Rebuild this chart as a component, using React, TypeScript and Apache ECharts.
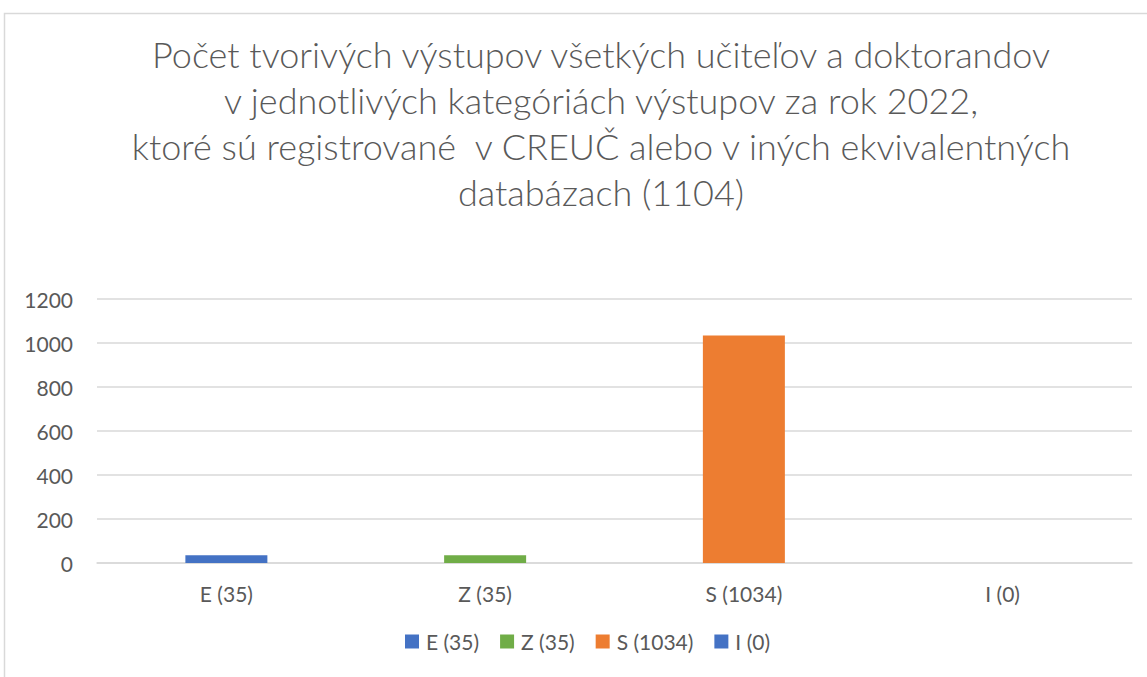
import React, { useEffect, useRef } from "react";
import * as echarts from "echarts";

const categories = ["E (35)", "Z (35)", "S (1034)", "I (0)"];
const seriesNames = ["E (35)", "Z (35)", "S (1034)", "I (0)"];
const seriesValues = [35, 35, 1034, 0];
const seriesColors = ["#4472C4", "#70AD47", "#ED7D31", "#4472C4"];
const yTicks = { min: 0, max: 1200, interval: 200 };
const titleLines = [
  "Počet tvorivých výstupov všetkých učiteľov a doktorandov",
  "v jednotlivých kategóriách výstupov za rok 2022,",
  "ktoré sú registrované  v CREUČ alebo v iných ekvivalentných",
  "databázach (1104)",
];

export default function App() {
  const ref = useRef<HTMLDivElement>(null);
  useEffect(() => {
    if (!ref.current) return;
    const chart = echarts.init(ref.current, undefined, { renderer: "svg" });
    const font = "Lato, 'Open Sans', sans-serif";
    const series = seriesNames.map((name, i) => ({
      name,
      type: "bar",
      stack: "all",
      barWidth: 82,
      itemStyle: { color: seriesColors[i] },
      data: categories.map((_, j) => (j === i ? seriesValues[i] : "-")),
    }));
    chart.setOption({
      animation: false,
      backgroundColor: "#ffffff",
      textStyle: { fontFamily: font },
      grid: { left: 97, right: 15, top: 299, bottom: 114, containLabel: false },
      xAxis: {
        type: "category",
        data: categories,
        axisLine: { show: true, lineStyle: { color: "#d9d9d9", width: 1.5 } },
        axisTick: { show: false },
        axisLabel: { color: "#595959", fontSize: 21, margin: 20, fontFamily: font },
      },
      yAxis: {
        type: "value",
        min: yTicks.min,
        max: yTicks.max,
        interval: yTicks.interval,
        axisLine: { show: false },
        axisTick: { show: false },
        splitLine: { lineStyle: { color: "#d9d9d9", width: 1.5 } },
        axisLabel: {
          color: "#595959",
          fontSize: 21,
          margin: 24,
          fontFamily: font,
          formatter: (v: number) => String(v),
        },
      },
      legend: {
        data: seriesNames,
        bottom: 20,
        left: 400,
        icon: "rect",
        itemWidth: 14,
        itemHeight: 14,
        itemGap: 21,
        textStyle: { color: "#595959", fontSize: 21, fontFamily: font, padding: [0, 0, 0, 2] },
      },
      graphic: [
        {
          type: "rect",
          shape: { x: 4.5, y: 13.5, width: 1300, height: 800 },
          style: { fill: "none", stroke: "#d9d9d9", lineWidth: 1.5 },
          silent: true,
          z: -1,
        },
        {
          type: "text",
          x: 601,
          y: 31,
          style: {
            text: titleLines.join("\n"),
            fill: "#595959",
            font: `300 36px ${font}`,
            align: "center",
            verticalAlign: "top",
            lineHeight: 46,
          },
        },
      ],
      series,
    });
    return () => chart.dispose();
  }, []);
  return (
    <div
      ref={ref}
      style={{ position: "fixed", left: 0, top: 0, width: 1147, height: 677 }}
    />
  );
}
